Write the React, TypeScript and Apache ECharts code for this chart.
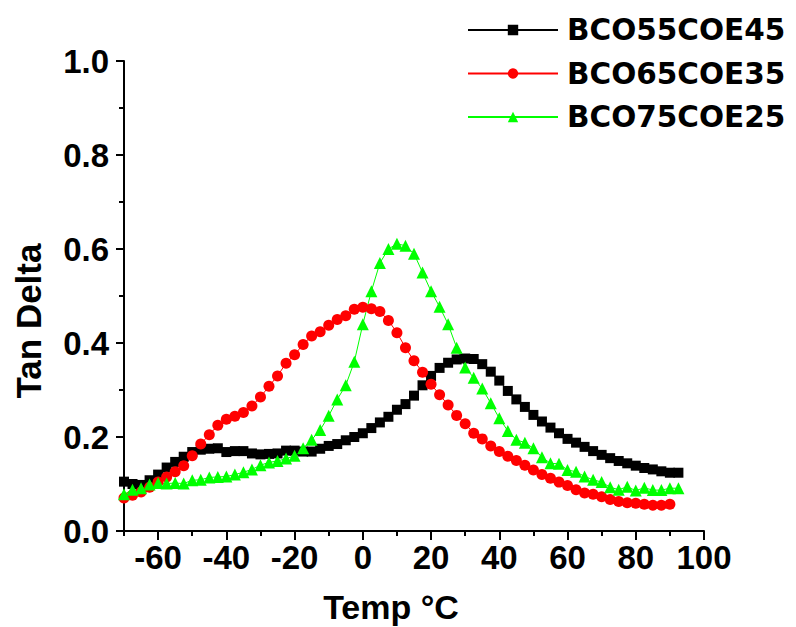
import React, { useEffect, useRef } from "react";
import * as echarts from "echarts";

const seriesNames = ["BCO55COE45", "BCO65COE35", "BCO75COE25"];

const tempsLong = [
  -70, -67.5, -65, -62.5, -60, -57.5, -55, -52.5, -50, -47.5,
  -45, -42.5, -40, -37.5, -35, -32.5, -30, -27.5, -25, -22.5,
  -20, -17.5, -15, -12.5, -10, -7.5, -5, -2.5, 0, 2.5,
  5, 7.5, 10, 12.5, 15, 17.5, 20, 22.5, 25, 27.5,
  30, 32.5, 35, 37.5, 40, 42.5, 45, 47.5, 50, 52.5,
  55, 57.5, 60, 62.5, 65, 67.5, 70, 72.5, 75, 77.5,
  80, 82.5, 85, 87.5, 90, 92.5,
];

const tempsShort = [
  -70, -67.5, -65, -62.5, -60, -57.5, -55, -52.5, -50, -47.5,
  -45, -42.5, -40, -37.5, -35, -32.5, -30, -27.5, -25, -22.5,
  -20, -17.5, -15, -12.5, -10, -7.5, -5, -2.5, 0, 2.5,
  5, 7.5, 10, 12.5, 15, 17.5, 20, 22.5, 25, 27.5,
  30, 32.5, 35, 37.5, 40, 42.5, 45, 47.5, 50, 52.5,
  55, 57.5, 60, 62.5, 65, 67.5, 70, 72.5, 75, 77.5,
  80, 82.5, 85, 87.5, 90,
];

const bco55 = [
  0.105, 0.1, 0.098, 0.108, 0.12, 0.135, 0.147, 0.158, 0.168, 0.173,
  0.175, 0.176, 0.168, 0.17, 0.17, 0.165, 0.163, 0.164, 0.165, 0.171,
  0.171, 0.169, 0.169, 0.175, 0.181, 0.185, 0.193, 0.2, 0.208, 0.219,
  0.231, 0.243, 0.258, 0.27, 0.288, 0.31, 0.33, 0.347, 0.358, 0.365,
  0.367, 0.366, 0.355, 0.339, 0.32, 0.298, 0.28, 0.264, 0.247, 0.233,
  0.22, 0.208, 0.196, 0.188, 0.179, 0.17, 0.162, 0.155, 0.149, 0.144,
  0.139, 0.134, 0.131, 0.127, 0.124, 0.124,
];

const bco65 = [
  0.07, 0.076, 0.083, 0.093, 0.104, 0.115, 0.126, 0.139, 0.16, 0.185,
  0.205, 0.225, 0.238, 0.244, 0.252, 0.266, 0.285, 0.308, 0.33, 0.357,
  0.375, 0.397, 0.415, 0.424, 0.438, 0.45, 0.458, 0.472, 0.476, 0.473,
  0.467, 0.448, 0.422, 0.39, 0.362, 0.338, 0.312, 0.29, 0.268, 0.246,
  0.228, 0.208, 0.196, 0.181, 0.169, 0.159, 0.15, 0.14, 0.13, 0.12,
  0.112, 0.104, 0.097, 0.088, 0.081, 0.078, 0.073, 0.067, 0.063, 0.06,
  0.059, 0.057, 0.055, 0.055, 0.057,
];

const bco75 = [
  0.078, 0.088, 0.091, 0.099, 0.102, 0.101, 0.102, 0.101, 0.108, 0.109,
  0.114, 0.115, 0.116, 0.12, 0.125, 0.131, 0.14, 0.146, 0.149, 0.154,
  0.16, 0.176, 0.194, 0.215, 0.245, 0.28, 0.31, 0.36, 0.44, 0.51,
  0.57, 0.6, 0.611, 0.607, 0.59, 0.55, 0.51, 0.477, 0.44, 0.39,
  0.348, 0.326, 0.303, 0.272, 0.24, 0.213, 0.194, 0.188, 0.176, 0.157,
  0.144, 0.143, 0.13, 0.126, 0.116, 0.109, 0.104, 0.093, 0.088, 0.094,
  0.086, 0.092, 0.087, 0.087, 0.091, 0.091,
];

const xMajorTicks = [-60, -40, -20, 0, 20, 40, 60, 80, 100];

const FONT = "'Liberation Sans', Arial, sans-serif";

function pairs(xs: number[], ys: number[]) {
  return ys.map((y, i) => [xs[i], y]);
}

export default function App() {
  const ref = useRef<HTMLDivElement>(null);
  useEffect(() => {
    if (!ref.current) return;
    const chart = echarts.init(ref.current, undefined, { renderer: "svg" });
    const axisLineStyle = { color: "#000", width: 2 };
    chart.setOption({
      animation: false,
      backgroundColor: "#fff",
      grid: { left: 124, right: 92, top: 61, bottom: 96, outerBoundsMode: "none", containLabel: false },
      legend: {
        orient: "vertical",
        left: 467,
        top: 15,
        padding: 0,
        itemWidth: 90,
        itemHeight: 13,
        itemGap: 13.5,
        data: seriesNames,
        textStyle: {
          fontFamily: "'DejaVu Sans', sans-serif",
          fontWeight: "bold",
          fontSize: 29.5,
          color: "#000",
          lineHeight: 30,
          padding: [0, 0, 0, 4],
        },
      },
      xAxis: [
        {
          type: "value",
          min: -70,
          max: 100,
          interval: 10,
          name: "Temp °C",
          nameLocation: "middle",
          nameGap: 59,
          nameTextStyle: {
            fontFamily: FONT,
            fontWeight: "bold",
            fontSize: 34,
            color: "#000",
            padding: [0, 46, 0, 0],
          },
          axisLine: { show: true, onZero: false, lineStyle: axisLineStyle },
          axisTick: { show: true, length: 5, lineStyle: axisLineStyle },
          axisLabel: {
            margin: 10,
            fontFamily: FONT,
            fontWeight: "bold",
            fontSize: 33,
            color: "#000",
            formatter: (v: number) => (xMajorTicks.indexOf(v) >= 0 ? String(v) : ""),
          },
          splitLine: { show: false },
        },
        {
          type: "value",
          min: -70,
          max: 100,
          interval: 10,
          position: "bottom",
          axisLine: { show: false },
          axisTick: { show: true, length: 9, lineStyle: axisLineStyle, customValues: xMajorTicks },
          axisLabel: { show: false },
          splitLine: { show: false },
        },
      ],
      yAxis: {
        type: "value",
        min: 0,
        max: 1,
        interval: 0.2,
        name: "Tan Delta",
        nameLocation: "middle",
        nameGap: 78,
        nameTextStyle: {
          fontFamily: FONT,
          fontWeight: "bold",
          fontSize: 35,
          color: "#000",
          padding: [0, 50, 0, 0],
        },
        axisLine: { show: true, onZero: false, lineStyle: axisLineStyle },
        axisTick: { show: true, length: 8, lineStyle: axisLineStyle },
        minorTick: { show: true, splitNumber: 2, length: 5, lineStyle: axisLineStyle },
        axisLabel: {
          margin: 15,
          fontFamily: FONT,
          fontWeight: "bold",
          fontSize: 33,
          color: "#000",
          formatter: (v: number) => v.toFixed(1),
        },
        splitLine: { show: false },
        minorSplitLine: { show: false },
      },
      series: [
        {
          name: seriesNames[0],
          type: "line",
          data: pairs(tempsLong, bco55),
          symbol: "rect",
          symbolSize: 10,
          itemStyle: { color: "#000" },
          lineStyle: { color: "#000", width: 1 },
        },
        {
          name: seriesNames[1],
          type: "line",
          data: pairs(tempsShort, bco65),
          symbol: "circle",
          symbolSize: 11,
          itemStyle: { color: "#ff0000" },
          lineStyle: { color: "#ff0000", width: 1 },
        },
        {
          name: seriesNames[2],
          type: "line",
          data: pairs(tempsLong, bco75),
          symbol: "triangle",
          symbolSize: 12,
          itemStyle: { color: "#00ff00" },
          lineStyle: { color: "#00ff00", width: 1 },
        },
      ],
    });
    return () => chart.dispose();
  }, []);
  return (
    <div
      ref={ref}
      style={{ position: "fixed", left: 0, top: 0, width: 796, height: 627 }}
    />
  );
}
